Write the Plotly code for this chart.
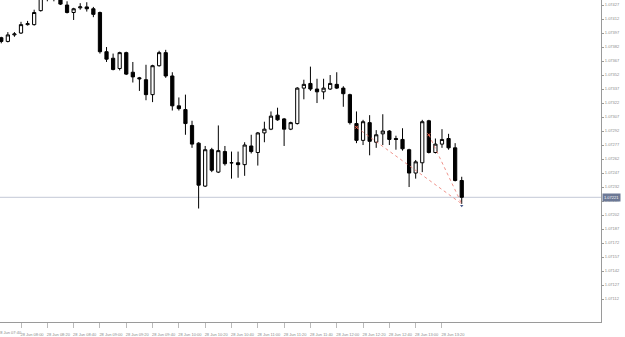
import plotly.graph_objects as go
import pandas as pd

# ---- data (EURUSD M5, 28 Jun) ----
TIMES = pd.date_range("2024-06-28 07:45", periods=71, freq="5min")

OPEN = [1.07392, 1.07388, 1.07395, 1.07397, 1.07406, 1.07406, 1.07421, 1.07437, 1.07443, 1.07439,
        1.07427, 1.07419, 1.07424, 1.07425, 1.07423, 1.07419, 1.07377, 1.07370, 1.07359, 1.07376,
        1.07355, 1.07349, 1.07347, 1.07331, 1.07362, 1.07376, 1.07351, 1.07319, 1.07315, 1.07298,
        1.07279, 1.07233, 1.07272, 1.07248, 1.07270, 1.07258, 1.07258, 1.07256, 1.07276, 1.07269,
        1.07290, 1.07294, 1.07309, 1.07305, 1.07294, 1.07300, 1.07338, 1.07343, 1.07337, 1.07334,
        1.07337, 1.07342, 1.07338, 1.07331, 1.07300, 1.07282, 1.07301, 1.07280, 1.07289, 1.07292,
        1.07284, 1.07283, 1.07272, 1.07247, 1.07258, 1.07303, 1.07269, 1.07278, 1.07284, 1.07274,
        1.07239]
HIGH = [1.07393, 1.07398, 1.07398, 1.07409, 1.07410, 1.07422, 1.07441, 1.07448, 1.07447, 1.07442,
        1.07431, 1.07424, 1.07429, 1.07430, 1.07425, 1.07420, 1.07382, 1.07375, 1.07377, 1.07377,
        1.07366, 1.07350, 1.07363, 1.07363, 1.07378, 1.07379, 1.07355, 1.07328, 1.07331, 1.07303,
        1.07280, 1.07276, 1.07274, 1.07298, 1.07276, 1.07270, 1.07270, 1.07280, 1.07288, 1.07291,
        1.07302, 1.07313, 1.07317, 1.07306, 1.07302, 1.07339, 1.07347, 1.07361, 1.07348, 1.07348,
        1.07352, 1.07355, 1.07340, 1.07332, 1.07313, 1.07304, 1.07309, 1.07293, 1.07310, 1.07293,
        1.07287, 1.07295, 1.07273, 1.07261, 1.07304, 1.07304, 1.07284, 1.07294, 1.07289, 1.07279,
        1.07243]
LOW = [1.07386, 1.07387, 1.07393, 1.07396, 1.07405, 1.07405, 1.07420, 1.07431, 1.07431, 1.07427,
       1.07418, 1.07411, 1.07422, 1.07420, 1.07414, 1.07375, 1.07366, 1.07357, 1.07357, 1.07352,
       1.07344, 1.07335, 1.07325, 1.07323, 1.07361, 1.07349, 1.07314, 1.07314, 1.07288, 1.07274,
       1.07209, 1.07232, 1.07248, 1.07247, 1.07255, 1.07241, 1.07242, 1.07244, 1.07268, 1.07255,
       1.07280, 1.07293, 1.07303, 1.07276, 1.07293, 1.07299, 1.07326, 1.07335, 1.07322, 1.07326,
       1.07336, 1.07337, 1.07318, 1.07299, 1.07279, 1.07277, 1.07266, 1.07274, 1.07277, 1.07277,
       1.07272, 1.07271, 1.07232, 1.07241, 1.07248, 1.07268, 1.07268, 1.07274, 1.07272, 1.07238,
       1.07214]
CLOSE = [1.07388, 1.07395, 1.07396, 1.07406, 1.07407, 1.07419, 1.07437, 1.07443, 1.07439, 1.07428,
         1.07419, 1.07423, 1.07425, 1.07423, 1.07417, 1.07377, 1.07369, 1.07358, 1.07376, 1.07353,
         1.07350, 1.07348, 1.07331, 1.07362, 1.07376, 1.07351, 1.07319, 1.07316, 1.07300, 1.07278,
         1.07234, 1.07272, 1.07250, 1.07271, 1.07257, 1.07258, 1.07256, 1.07277, 1.07270, 1.07290,
         1.07294, 1.07308, 1.07304, 1.07294, 1.07301, 1.07338, 1.07342, 1.07337, 1.07334, 1.07338,
         1.07343, 1.07338, 1.07332, 1.07301, 1.07282, 1.07302, 1.07281, 1.07288, 1.07292, 1.07283,
         1.07283, 1.07273, 1.07247, 1.07259, 1.07302, 1.07269, 1.07278, 1.07283, 1.07274, 1.07239,
         1.07221]

Y_TICKS = [1.07427, 1.07412, 1.07397, 1.07382, 1.07367, 1.07352, 1.07337, 1.07322, 1.07307,
           1.07292, 1.07277, 1.07262, 1.07247, 1.07232, 1.07217, 1.07202, 1.07187, 1.07172,
           1.07157, 1.07142, 1.07127, 1.07112]

X_TICKS = ["2024-06-28 08:00", "2024-06-28 08:20", "2024-06-28 08:40", "2024-06-28 09:00",
           "2024-06-28 09:20", "2024-06-28 09:40", "2024-06-28 10:00", "2024-06-28 10:20",
           "2024-06-28 10:40", "2024-06-28 11:00", "2024-06-28 11:20", "2024-06-28 11:40",
           "2024-06-28 12:00", "2024-06-28 12:20", "2024-06-28 12:40", "2024-06-28 13:00",
           "2024-06-28 13:20"]
FIRST_TICK_LABEL = "28 Jun 07:40"   # partly cut off at the left edge

BID = 1.07221

# trade history (open marks -> close)
TRADE_OPEN_T = ["2024-06-28 12:15", "2024-06-28 13:10"]
TRADE_OPEN_P = [1.07296, 1.07288]
TRADE_CLOSE_T = "2024-06-28 13:35"
TRADE_CLOSE_P = 1.07214

GRAY = "#9a9a9a"
TXT = "#8a8a8a"
FONT = "Liberation Sans"

fig = go.Figure()
fig.add_trace(go.Candlestick(
    x=TIMES, open=OPEN, high=HIGH, low=LOW, close=CLOSE,
    increasing=dict(line=dict(color="black", width=1), fillcolor="white"),
    decreasing=dict(line=dict(color="black", width=1), fillcolor="black"),
    whiskerwidth=0, showlegend=False, hoverinfo="skip"))

for t, p in zip(TRADE_OPEN_T, TRADE_OPEN_P):
    fig.add_trace(go.Scatter(
        x=[t, TRADE_CLOSE_T], y=[p, TRADE_CLOSE_P], mode="lines",
        line=dict(color="rgba(235,120,110,0.8)", width=1, dash="dot"),
        showlegend=False, hoverinfo="skip"))
fig.add_trace(go.Scatter(
    x=TRADE_OPEN_T, y=TRADE_OPEN_P, mode="markers",
    marker=dict(symbol="x-thin", size=3, line=dict(color="#e8604a", width=1)),
    showlegend=False, hoverinfo="skip"))
fig.add_trace(go.Scatter(
    x=[TRADE_CLOSE_T], y=[TRADE_CLOSE_P - 0.00002], mode="markers",
    marker=dict(symbol="triangle-down", size=3, color="#4a5a8a"),
    showlegend=False, hoverinfo="skip"))

fig.add_shape(type="line", xref="paper", x0=0, x1=1, yref="y", y0=BID, y1=BID,
              line=dict(color="#c3c8d6", width=1), layer="below")

fig.add_annotation(xref="paper", x=1.0, xanchor="left", yref="y", y=BID,
                   text=f"{BID:.5f}", showarrow=False,
                   font=dict(size=4, color="white", family=FONT),
                   bgcolor="#6c7895", borderpad=1, xshift=1)

# partially hidden first time label (MT4 style, left aligned at its tick),
# its tick sits just left of the plot's left edge
fig.add_annotation(xref="paper", x=-0.0088, xanchor="left", yref="paper", y=0,
                   yanchor="top", yshift=-6, xshift=1,
                   text=FIRST_TICK_LABEL,
                   showarrow=False, font=dict(size=4, color=TXT, family=FONT))

fig.update_layout(
    width=625, height=337,
    margin=dict(l=0, r=24, t=0, b=15),
    paper_bgcolor="white", plot_bgcolor="white",
    font=dict(family=FONT, size=4, color=TXT),
    boxgap=0.3,
    xaxis=dict(
        type="date",
        range=["2024-06-28 07:44:02", "2024-06-28 15:20:52"],
        rangeslider=dict(visible=False),
        tickmode="array", tickvals=X_TICKS,
        tickformat="%d %b %H:%M",
        showgrid=False, zeroline=False,
        showline=True, linecolor=GRAY, linewidth=1,
        ticks="outside", ticklen=5, tickcolor="#bbbbbb", tickwidth=1,
        tickfont=dict(size=4, color=TXT),
        ticklabelshift=11, ticklabelstandoff=3,
    ),
    yaxis=dict(
        side="right",
        range=[1.070874, 1.074324],
        tickmode="array", tickvals=Y_TICKS,
        ticktext=[f"{v:.5f}" for v in Y_TICKS],
        showgrid=False, zeroline=False,
        showline=True, linecolor=GRAY, linewidth=1,
        ticks="outside", ticklen=2, tickcolor=GRAY, tickwidth=1,
        tickfont=dict(size=4, color=TXT),
    ),
)

fig.write_html("out.html")
